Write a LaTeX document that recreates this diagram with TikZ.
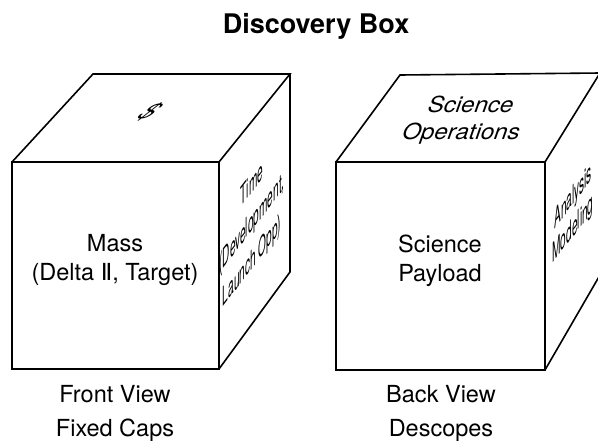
\documentclass[tikz,border=0pt]{standalone}
\usepackage{fontspec}
\setmainfont{TeX Gyre Heros}
\newfontfamily\numfont{DejaVu Sans}
\usepackage{tikz}
\usetikzlibrary{positioning}

\begin{document}
\begin{tikzpicture}
  [
    x=1pt, y=-1pt,
    edge/.style={draw=black, line width=1.6pt, line join=miter},
    txt/.style={font=\fontsize{23.5}{29}\selectfont, align=center, inner sep=0pt},
    sidetxt/.style={txt, font=\fontsize{24}{34}\selectfont, cm={0.42,0.55,0,1.12,(0,0)}},
    toptxt/.style={txt, font=\fontsize{24}{30}\selectfont, cm={1,0,0.32,0.92,(0,0)}}
  ]
  \useasboundingbox (0,0) rectangle (598,440);

  % left cube (front view)
  \coordinate (fa) at ( 12,162);
  \coordinate (fb) at (219,162);
  \coordinate (fc) at (219,369);
  \coordinate (fd) at ( 12,369);
  \coordinate (fe) at ( 93, 74);
  \coordinate (ff) at (290, 74);
  \coordinate (fg) at (290,272);

  % right cube (back view)
  \coordinate (ba) at (336,162);
  \coordinate (bb) at (545,162);
  \coordinate (bc) at (545,370);
  \coordinate (bd) at (336,370);
  \coordinate (be) at (400, 75);
  \coordinate (bf) at (600, 73);
  \coordinate (bg) at (600,275);

  \draw [edge] (fa) -- (fb) -- (fc) -- (fd) -- cycle;
  \draw [edge] (fa) -- (fe) -- (ff) -- (fb);
  \draw [edge] (ff) -- (fg) -- (fc);

  \draw [edge] (ba) -- (bb) -- (bc) -- (bd) -- cycle;
  \draw [edge] (ba) -- (be) -- (bf) -- (bb);
  \draw [edge] (bf) -- (bg) -- (bc);

  \node (title) at (316,33) [anchor=base, font=\fontsize{27}{32}\selectfont\bfseries] {Discovery Box};

  \node (mass)    at (115,260) [txt] {Mass\\(Delta {\numfont Ⅱ}, Target)};
  \node (cost)    at (150,112) [txt, font=\fontsize{24}{28}\selectfont, cm={1,0,1.1,0.85,(0,0)}] {\$};
  \node (time)    at (252,224) [sidetxt] {Time\\(Development,\\Launch Opp)};

  \node (payload) at (440,261) [txt] {Science\\Payload};
  \node (ops)     at (466,120) [toptxt] {Science\\Operations};
  \node (model)   at (573,214) [sidetxt, font=\fontsize{24}{29}\selectfont] {Analysis\\Modeling};

  \node (front) at (115,402) [txt, anchor=base] {Front View};
  \node (caps)  at (115,436) [txt, anchor=base] {Fixed Caps};
  \node (back)  at (441,402) [txt, anchor=base] {Back View};
  \node (desc)  at (441,436) [txt, anchor=base] {Descopes};
\end{tikzpicture}
\end{document}
